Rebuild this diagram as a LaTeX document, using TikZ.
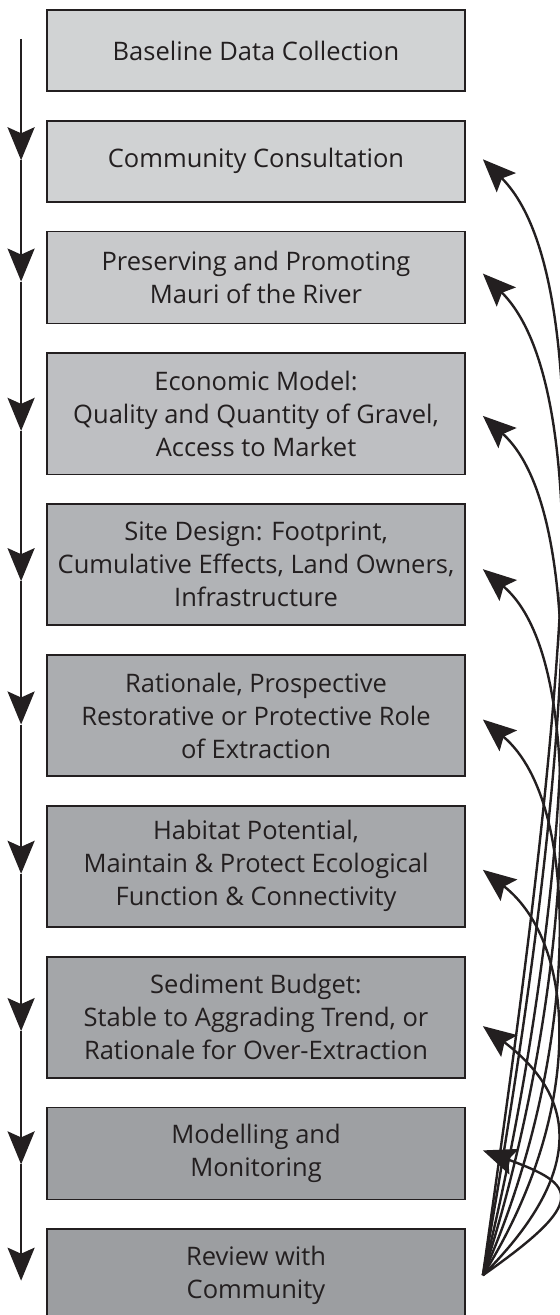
\documentclass[tikz,border=0pt]{standalone}
\usepackage{fontspec}
\setmainfont{Open Sans}
\usepackage{xcolor}
\usetikzlibrary{arrows.meta, positioning, calc}

\definecolor{ink}{HTML}{231F20}
\definecolor{g1}{HTML}{D1D3D4}
\definecolor{g2}{HTML}{D0D2D3}
\definecolor{g3}{HTML}{C8C9CB}
\definecolor{g4}{HTML}{BEBFC2}
\definecolor{g5}{HTML}{B1B3B6}
\definecolor{g6}{HTML}{ABADB0}
\definecolor{g7}{HTML}{A6A8AB}
\definecolor{g8}{HTML}{A4A6A9}
\definecolor{g9}{HTML}{9EA0A3}
\definecolor{g10}{HTML}{9C9EA1}

\begin{document}
\begin{tikzpicture}[node distance=14pt, >={Stealth[length=16.5pt, width=13.5pt, inset=3pt]},
  stage/.style={draw=ink, line width=0.9pt, text=ink, minimum width=209pt, inner sep=0pt,
    align=center, font=\fontsize{12.75pt}{16.5pt}\selectfont},
  flow/.style={->, draw=ink, line width=1.2pt},
  back/.style={->, draw=ink, line width=1.2pt}]
  \useasboundingbox (0,0) rectangle (280pt,-657.5pt);

  \node[stage, fill=g1, minimum height=40.5pt] (b1) at (128pt,-25.25pt) {Baseline Data Collection};
  \node[stage, fill=g2, minimum height=40.5pt, below=of b1] (b2) {Community Consultation};
  \node[stage, fill=g3, minimum height=46pt, below=of b2] (b3) {Preserving and Promoting\\Mauri of the River};
  \node[stage, fill=g4, minimum height=60.5pt, below=of b3] (b4) {Economic Model:\\Quality and Quantity of Gravel,\\Access to Market};
  \node[stage, fill=g5, minimum height=60.5pt, below=of b4] (b5) {Site Design: Footprint,\\Cumulative Effects, Land Owners,\\Infrastructure};
  \node[stage, fill=g6, minimum height=60.5pt, below=of b5] (b6) {Rationale, Prospective\\Restorative or Protective Role\\of Extraction};
  \node[stage, fill=g7, minimum height=60.5pt, below=of b6] (b7) {Habitat Potential,\\Maintain \& Protect Ecological\\Function \& Connectivity};
  \node[stage, fill=g8, minimum height=60.5pt, below=of b7] (b8) {Sediment Budget:\\Stable to Aggrading Trend, or\\Rationale for Over-Extraction};
  \node[stage, fill=g9, minimum height=46pt, below=of b8] (b9) {Modelling and\\Monitoring};
  \node[stage, fill=g10, minimum height=46pt, below=of b9] (b10) {Review with\\Community};

  \coordinate (a1) at ($(b1.west)+(-12.5pt,5.75pt)$);
  \foreach \k/\d in {2/0.5, 3/-2, 4/-8.5, 5/-8.25, 6/-4.5, 7/-3.75, 8/-7, 9/-5.5, 10/-2.75}
    \coordinate (a\k) at ($(b\k.west)+(-12.5pt,\d*1pt)$);
  \foreach \k [count=\j from 2] in {1,...,9}
    \draw[flow] (a\k) -- (a\j);

  \coordinate (s) at ($(b10.east)+(8.5pt,0)$);
  \foreach \k/\d in {2/1, 3/2, 4/-1, 5/-2.25, 6/-2, 7/-1.75, 8/-4.5, 9/1.5}
    \coordinate (r\k) at ($(b\k.east)+(8.5pt,\d*1pt)$);
  \draw[back] (s) to[out=82, in=-45, out distance=200pt, in distance=100pt] (r2);
  \draw[back] (s) to[out=80, in=-45, out distance=180pt, in distance=95pt] (r3);
  \draw[back] (s) to[out=76, in=-42, out distance=146pt, in distance=85pt] (r4);
  \draw[back] (s) to[out=72, in=-40, out distance=133pt, in distance=75pt] (r5);
  \draw[back] (s) to[out=66, in=-40, out distance=115pt, in distance=67.5pt] (r6);
  \draw[back] (s) to[out=58, in=-38, out distance=96.5pt, in distance=60pt] (r7);
  \draw[back] (s) to[out=45, in=-37, out distance=74.5pt, in distance=57.5pt] (r8);
  \draw[back] (s) to[out=35, in=-20, out distance=65pt, in distance=50pt] (r9);
\end{tikzpicture}
\end{document}
